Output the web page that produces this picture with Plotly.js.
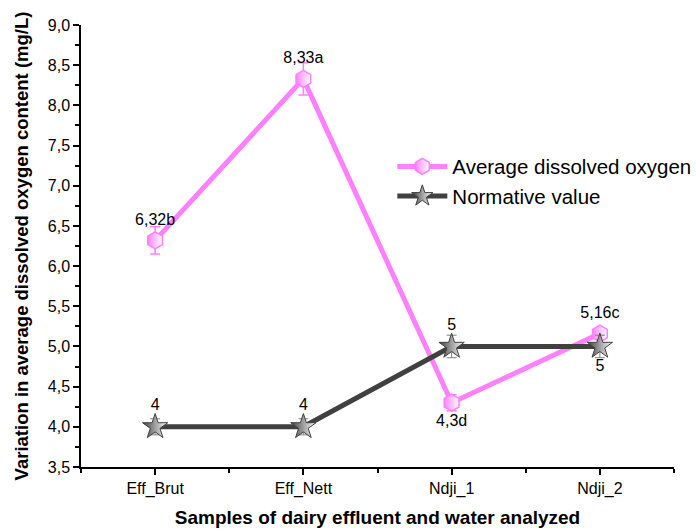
<!DOCTYPE html>
<html>
<head>
<meta charset="utf-8">
<script src="https://cdn.plot.ly/plotly-3.0.1.min.js"></script>
<style>html,body{margin:0;padding:0;background:#fff;}#chart{width:696px;height:529px;}</style>
</head>
<body>
<div id="chart"></div>
<script>
const categories = ["Eff_Brut", "Eff_Nett", "Ndji_1", "Ndji_2"];
const oxygenValues = [6.32, 8.33, 4.3, 5.16];
const oxygenErrors = [0.17, 0.2, 0.1, 0.05];
const oxygenLabels = ["6,32b", "8,33a", "4,3d", "5,16c"];
const oxygenLabelPos = ["top center", "top center", "bottom center", "top center"];
const normValues = [4, 4, 5, 5];
const normErrors = [0.1, 0.1, 0.14, 0.14];
const normLabels = ["4", "4", "5", "5"];
const normLabelPos = ["top center", "top center", "top center", "bottom center"];
const seriesNames = ["Average dissolved oxygen", "Normative value"];

const xIdx = categories.map((c, i) => i);
const PINK = "#FF80FF";
const GREY = "#404040";
const FONT = "Liberation Sans, Arial, sans-serif";

const traces = [
  {
    x: xIdx, y: oxygenValues, name: seriesNames[0],
    mode: "lines+markers+text", type: "scatter",
    line: {color: PINK, width: 5},
    marker: {symbol: "hexagon", size: 17, color: PINK, line: {color: PINK, width: 1.5},
             gradient: {type: "horizontal", color: "#ffffff"}},
    error_y: {type: "data", array: oxygenErrors, visible: true, color: PINK, thickness: 1.5, width: 5},
    text: oxygenLabels, textposition: oxygenLabelPos,
    textfont: {family: FONT, size: 16, color: "#000"}
  },
  {
    x: xIdx, y: normValues, name: seriesNames[1],
    mode: "lines+markers+text", type: "scatter",
    line: {color: GREY, width: 5},
    marker: {symbol: "star", size: 19, color: GREY, line: {color: GREY, width: 1},
             gradient: {type: "horizontal", color: "#ffffff"}},
    error_y: {type: "data", array: normErrors, visible: true, color: "#808080", thickness: 1, width: 5},
    text: normLabels, textposition: normLabelPos,
    textfont: {family: FONT, size: 16, color: "#000"}
  }
];

const layout = {
  width: 696, height: 529,
  margin: {l: 81, r: 22, t: 25, b: 62, autoexpand: false},
  paper_bgcolor: "#fff", plot_bgcolor: "#fff",
  separators: ", ",
  font: {family: FONT, color: "#000", size: 16},
  showlegend: true,
  legend: {
    x: 0.525, y: 0.725, xanchor: "left", yanchor: "top",
    font: {family: FONT, size: 20.5, color: "#000"},
    bgcolor: "rgba(0,0,0,0)", traceorder: "normal",
    itemwidth: 50, tracegroupgap: 0
  },
  xaxis: {
    range: [-0.5, 3.5],
    tickvals: xIdx, ticktext: categories,
    showgrid: false, zeroline: false, automargin: false,
    showline: true, linecolor: "#000", linewidth: 1.5,
    ticks: "outside", ticklen: 6, tickwidth: 1.5, tickcolor: "#000",
    minor: {dtick: 0.5, tick0: -0.5, ticks: "outside", ticklen: 4, tickwidth: 1.5, tickcolor: "#000", showgrid: false},
    tickfont: {family: FONT, size: 16},
    title: {text: "<b>Samples of dairy effluent and water analyzed</b>", font: {family: FONT, size: 19}, standoff: 14}
  },
  yaxis: {
    range: [3.5, 9.0],
    dtick: 0.5, tick0: 3.5, tickformat: ".1f",
    showgrid: false, zeroline: false, automargin: false,
    showline: true, linecolor: "#000", linewidth: 1.5,
    ticks: "outside", ticklen: 6, tickwidth: 1.5, tickcolor: "#000",
    minor: {dtick: 0.25, ticks: "outside", ticklen: 4, tickwidth: 1.5, tickcolor: "#000", showgrid: false},
    tickfont: {family: FONT, size: 16},
    title: {text: "<b>Variation in average dissolved oxygen content (mg/L)</b>", font: {family: FONT, size: 18.5}, standoff: 14}
  }
};

Plotly.newPlot("chart", traces, layout, {displayModeBar: false, responsive: false});
</script>
</body>
</html>
